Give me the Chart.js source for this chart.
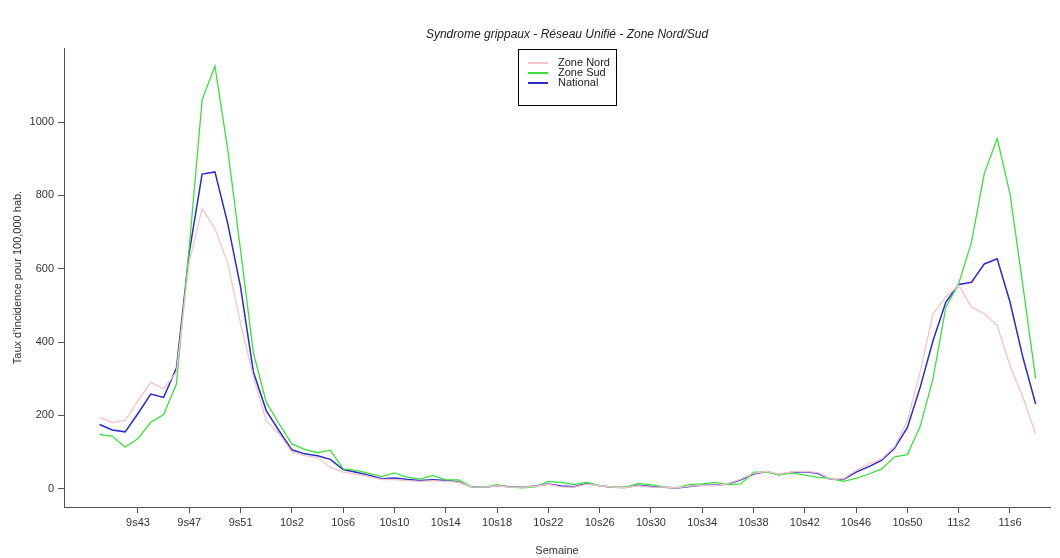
<!DOCTYPE html>
<html>
<head>
<meta charset="utf-8">
<script src="https://cdn.jsdelivr.net/npm/chart.js@4"></script>
<style>
  html, body { margin: 0; padding: 0; background: #fff; }
  #wrap { width: 1060px; height: 558px; }
</style>
</head>
<body>
<div id="wrap"><canvas id="chart-line" width="1060" height="558"></canvas></div>
<script>
// weeks 9s40 .. 11s8
const weeks = [
  "9s40","9s41","9s42","9s43","9s44","9s45","9s46","9s47","9s48","9s49","9s50","9s51","9s52","9s53",
  "10s1","10s2","10s3","10s4","10s5","10s6","10s7","10s8","10s9","10s10","10s11","10s12","10s13","10s14",
  "10s15","10s16","10s17","10s18","10s19","10s20","10s21","10s22","10s23","10s24","10s25","10s26","10s27",
  "10s28","10s29","10s30","10s31","10s32","10s33","10s34","10s35","10s36","10s37","10s38","10s39","10s40",
  "10s41","10s42","10s43","10s44","10s45","10s46","10s47","10s48","10s49","10s50","10s51","10s52",
  "11s1","11s2","11s3","11s4","11s5","11s6","11s7","11s8"
];

const zoneNord = [
  195,181,186,240,290,272,318,620,764,710,614,450,305,185,
  150,100,90,85,58,45,40,33,25,25,22,20,22,20,
  18,5,4,8,4,4,6,12,5,4,12,8,4,
  3,8,4,4,2,7,9,8,14,26,42,47,40,
  46,47,44,26,27,50,68,81,115,185,320,477,
  523,555,495,477,445,336,250,150
];

const zoneSud = [
  148,143,113,137,181,202,286,660,1060,1153,925,650,370,236,
  177,122,107,98,105,54,50,42,33,43,31,26,36,24,
  24,5,4,11,4,2,5,20,17,11,17,8,4,
  4,14,11,5,2,11,13,17,11,13,45,45,38,
  43,37,31,28,20,28,40,54,87,93,170,301,
  495,559,673,860,955,805,555,300
];

const national = [
  175,160,155,205,258,249,329,645,858,864,723,550,318,213,
  158,106,95,90,80,52,45,37,27,29,25,22,24,22,
  19,5,4,8,5,4,7,13,7,5,14,8,4,
  3,9,6,4,2,6,9,9,13,24,40,47,38,
  45,46,42,26,25,45,60,78,110,167,277,404,
  509,557,563,613,627,509,359,231
];

const xTickLabels = ["9s43","9s47","9s51","10s2","10s6","10s10","10s14","10s18","10s22",
  "10s26","10s30","10s34","10s38","10s42","10s46","10s50","11s2","11s6"];
const yTickValues = [0, 200, 400, 600, 800, 1000];

const toPoints = arr => arr.map((v, i) => ({ x: i, y: v }));

const FONT = "'Liberation Sans', Arial, sans-serif";

// title + legend box drawn inside the plot, like the original
const decorations = {
  id: 'decorations',
  afterDraw(chart) {
    const ctx = chart.ctx;
    ctx.save();
    ctx.fillStyle = '#222';
    ctx.font = "italic 12px " + FONT;
    ctx.textAlign = 'center';
    ctx.textBaseline = 'middle';
    ctx.fillText('Syndrome grippaux - Réseau Unifié - Zone Nord/Sud', 567, 35);

    const bx = 518, by = 49, bw = 98, bh = 56;
    ctx.fillStyle = '#fff';
    ctx.fillRect(bx, by, bw, bh);
    ctx.strokeStyle = '#000';
    ctx.lineWidth = 1;
    ctx.strokeRect(bx + 0.5, by + 0.5, bw, bh);
    ctx.font = "11px " + FONT;
    ctx.textAlign = 'left';
    chart.data.datasets.forEach((ds, i) => {
      const y = by + 14 + i * 10;
      ctx.strokeStyle = ds.borderColor;
      ctx.lineWidth = 2;
      ctx.beginPath();
      ctx.moveTo(bx + 10, y);
      ctx.lineTo(bx + 30, y);
      ctx.stroke();
      ctx.fillStyle = '#222';
      ctx.fillText(ds.label, bx + 40, y);
    });
    ctx.restore();
  }
};

new Chart(document.getElementById('chart-line'), {
  type: 'line',
  data: {
    datasets: [
      { label: 'Zone Nord', data: toPoints(zoneNord), borderColor: '#f5c3ca', borderWidth: 1.3 },
      { label: 'Zone Sud', data: toPoints(zoneSud), borderColor: '#3ce03c', borderWidth: 1.3 },
      { label: 'National', data: toPoints(national), borderColor: '#2a2ad0', borderWidth: 1.5 }
    ]
  },
  options: {
    responsive: false,
    animation: false,
    elements: { point: { radius: 0 }, line: { tension: 0 } },
    layout: { padding: { left: 0, top: 48, right: 10, bottom: 0 } },
    plugins: { legend: { display: false }, title: { display: false }, tooltip: { enabled: false } },
    scales: {
      x: {
        type: 'linear',
        min: -2.77,
        max: 74.12,
        afterBuildTicks: scale => {
          scale.ticks = xTickLabels.map(l => ({ value: weeks.indexOf(l) }));
        },
        afterFit: scale => { scale.height = 51; },
        ticks: {
          autoSkip: false,
          maxRotation: 0,
          padding: 3,
          color: '#333',
          font: { family: FONT, size: 11 },
          callback: v => weeks[v]
        },
        grid: { drawOnChartArea: false, drawTicks: true, tickLength: 6, color: '#555' },
        border: { display: true, color: '#555', width: 1 },
        title: { display: true, text: 'Semaine', color: '#333', font: { family: FONT, size: 11 }, padding: { top: 0, bottom: 0 } }
      },
      y: {
        type: 'linear',
        min: -50,
        max: 1202,
        afterBuildTicks: scale => {
          scale.ticks = yTickValues.map(v => ({ value: v }));
        },
        afterFit: scale => { scale.width = 64; },
        ticks: {
          padding: 4,
          color: '#333',
          font: { family: FONT, size: 11 },
          callback: v => String(v)
        },
        grid: { drawOnChartArea: false, drawTicks: true, tickLength: 6, color: '#555' },
        border: { display: true, color: '#555', width: 1 },
        title: { display: true, text: "Taux d'incidence pour 100,000 hab.", color: '#333', font: { family: FONT, size: 11 }, padding: { top: 11, bottom: 0 } }
      }
    }
  },
  plugins: [decorations]
});
</script>
</body>
</html>
